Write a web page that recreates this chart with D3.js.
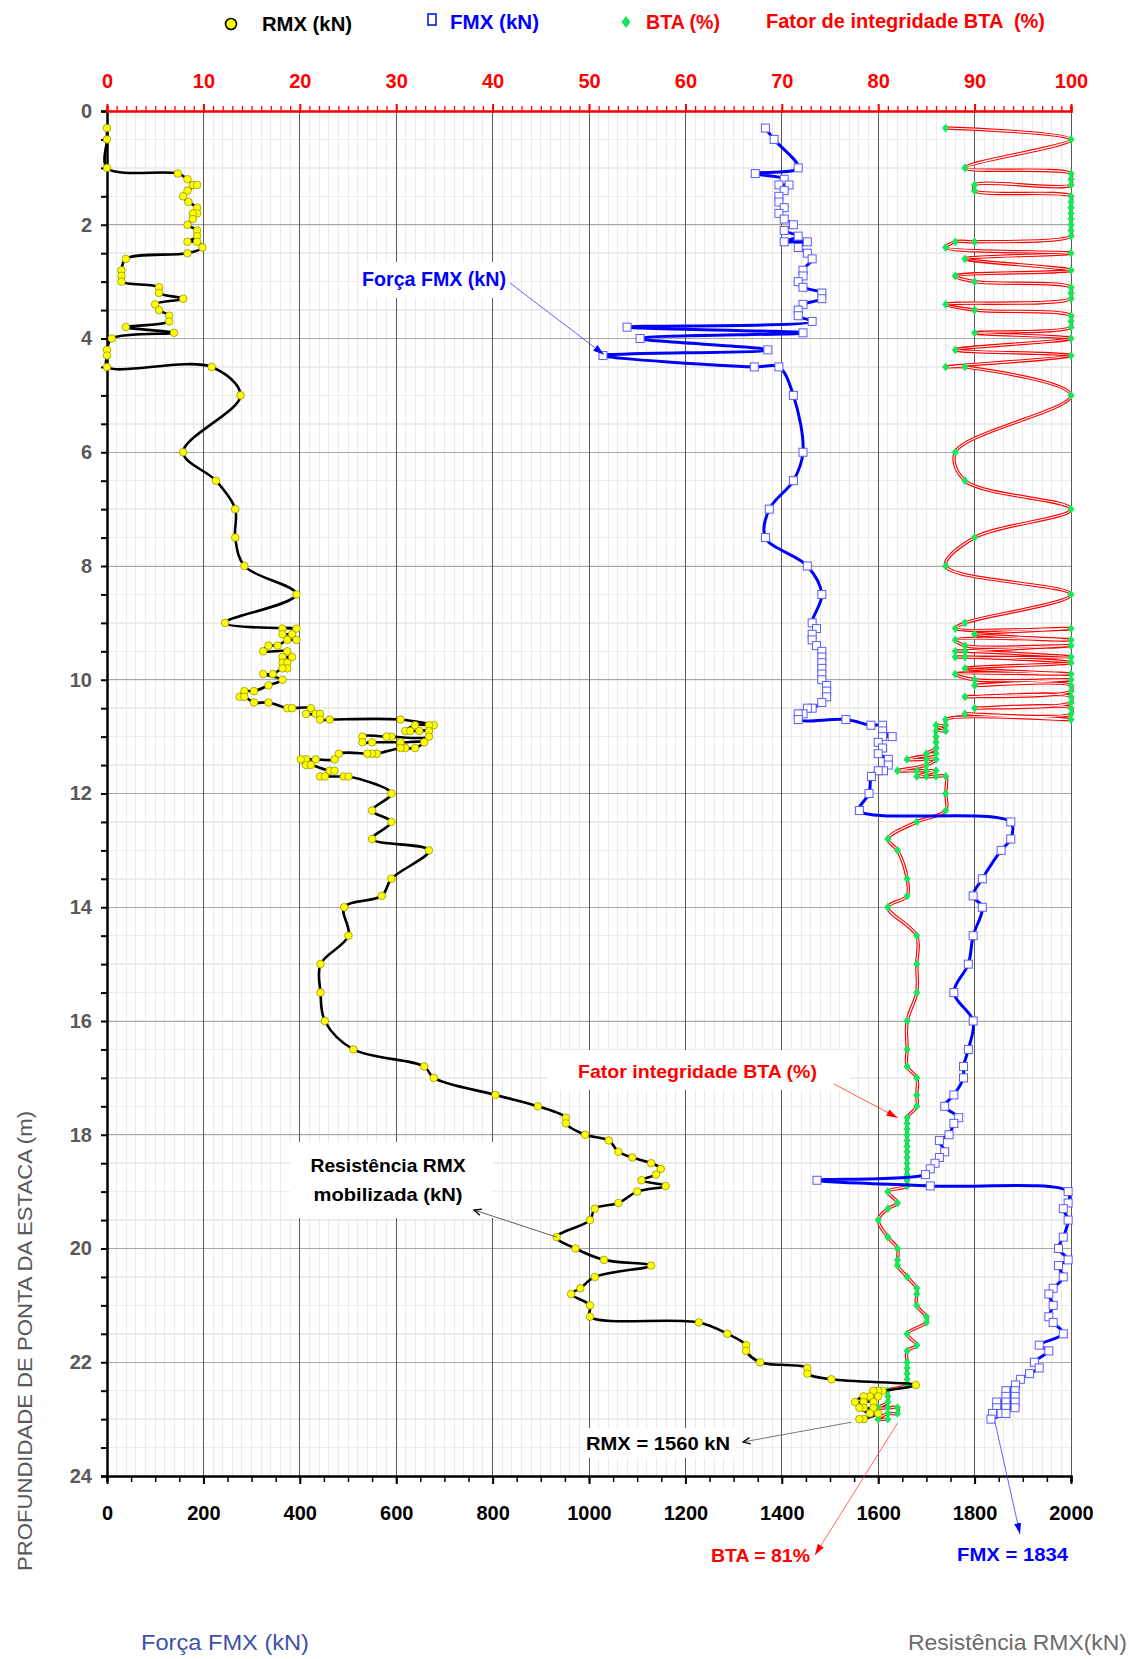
<!DOCTYPE html>
<html><head><meta charset="utf-8">
<script src="https://cdn.jsdelivr.net/npm/d3@7"></script>
<style>
body{margin:0;background:#fff}
svg{display:block}
text{font-family:"Liberation Sans",Arial,sans-serif}
</style>
</head><body>
<svg id="c" width="1134" height="1659"></svg>
<script>
// ---------------- DATA ([depth m, value]) ----------------
const rmx = [[0.3,0],[0.5,0],[1.0,0],[1.1,147],[1.2,167],[1.3,178],[1.3,187],[1.4,167],[1.5,158],[1.6,169],[1.7,187],[1.8,187],[1.8,178],[1.9,178],[2.0,167],[2.1,187],[2.2,187],[2.3,167],[2.3,187],[2.4,198],[2.5,167],[2.6,39],[2.8,30],[2.9,30],[3.0,30],[3.1,108],[3.2,108],[3.3,158],[3.4,100],[3.5,108],[3.6,129],[3.7,129],[3.8,39],[3.9,139],[4.0,10],[4.2,0],[4.3,0],[4.5,0],[4.5,217],[5.0,277],[6.0,158],[6.5,226],[7.0,266],[7.5,266],[8.0,285],[8.5,393],[9.0,245],[9.1,393],[9.1,364],[9.2,364],[9.2,384],[9.3,393],[9.3,374],[9.4,354],[9.4,335],[9.5,324],[9.5,374],[9.6,364],[9.6,384],[9.7,364],[9.7,374],[9.8,374],[9.8,364],[9.9,344],[9.9,324],[10.0,364],[10.1,335],[10.2,305],[10.2,285],[10.3,275],[10.3,285],[10.4,305],[10.4,335],[10.5,374],[10.5,384],[10.5,423],[10.6,413],[10.6,433],[10.6,442],[10.7,442],[10.7,462],[10.7,609],[10.8,678],[10.8,668],[10.8,639],[10.9,619],[10.9,629],[10.9,648],[10.9,668],[11.0,668],[11.0,590],[11.0,580],[11.0,530],[11.1,530],[11.1,550],[11.1,609],[11.1,658],[11.2,639],[11.2,619],[11.2,609],[11.3,560],[11.3,550],[11.3,540],[11.3,481],[11.4,472],[11.4,433],[11.4,413],[11.4,402],[11.5,413],[11.5,423],[11.6,462],[11.6,472],[11.7,442],[11.7,452],[11.7,491],[11.7,501],[12.0,590],[12.3,550],[12.5,590],[12.8,550],[13.0,668],[13.5,590],[13.8,570],[14.0,492],[14.5,501],[15.0,443],[15.5,443],[16.0,452],[16.5,511],[16.8,658],[17.0,678],[17.3,806],[17.5,894],[17.7,952],[17.8,952],[18.0,992],[18.1,1041],[18.3,1061],[18.4,1090],[18.5,1129],[18.6,1149],[18.7,1139],[18.8,1109],[18.9,1159],[19.0,1100],[19.2,1061],[19.3,1012],[19.5,1002],[19.8,933],[20.0,972],[20.2,1031],[20.3,1129],[20.5,1012],[20.7,982],[20.8,963],[21.0,1002],[21.2,1002],[21.3,1228],[21.5,1287],[21.7,1326],[21.8,1326],[22.0,1355],[22.1,1453],[22.2,1453],[22.3,1503],[22.4,1678],[22.5,1609],[22.5,1600],[22.5,1590],[22.6,1600],[22.6,1583],[22.6,1570],[22.7,1552],[22.7,1570],[22.7,1590],[22.8,1590],[22.8,1570],[22.8,1561],[22.9,1583],[22.9,1600],[23.0,1570],[23.0,1561]];

const fmx = [[0.3,1366],[0.5,1384],[1.0,1434],[1.1,1345],[1.2,1405],[1.3,1394],[1.3,1415],[1.4,1405],[1.5,1394],[1.6,1394],[1.7,1405],[1.8,1394],[1.9,1405],[2.0,1424],[2.1,1405],[2.2,1434],[2.3,1405],[2.3,1453],[2.4,1434],[2.5,1453],[2.6,1463],[2.8,1444],[2.9,1444],[3.0,1434],[3.1,1444],[3.2,1483],[3.3,1483],[3.4,1444],[3.5,1434],[3.6,1434],[3.7,1463],[3.8,1079],[3.9,1444],[4.0,1106],[4.2,1371],[4.3,1029],[4.5,1343],[4.5,1394],[5.0,1424],[6.0,1444],[6.5,1424],[7.0,1374],[7.5,1366],[8.0,1453],[8.5,1483],[9.0,1463],[9.1,1472],[9.2,1463],[9.3,1463],[9.4,1472],[9.5,1483],[9.6,1483],[9.7,1483],[9.8,1483],[9.9,1483],[10.0,1483],[10.1,1493],[10.2,1493],[10.3,1493],[10.4,1483],[10.5,1463],[10.5,1453],[10.6,1444],[10.6,1434],[10.7,1434],[10.7,1533],[10.8,1585],[10.8,1609],[10.9,1609],[11.0,1629],[11.0,1609],[11.1,1600],[11.2,1609],[11.3,1600],[11.4,1621],[11.5,1621],[11.6,1611],[11.6,1600],[11.7,1586],[12.0,1581],[12.3,1561],[12.5,1875],[12.8,1875],[13.0,1855],[13.5,1816],[13.8,1797],[14.0,1816],[14.5,1797],[15.0,1787],[15.5,1757],[16.0,1797],[16.5,1787],[16.8,1777],[17.0,1777],[17.3,1757],[17.5,1738],[17.7,1767],[17.8,1757],[18.0,1747],[18.1,1727],[18.3,1738],[18.4,1727],[18.5,1718],[18.6,1708],[18.7,1698],[18.8,1473],[18.9,1708],[19.0,1994],[19.2,1994],[19.3,1984],[19.5,1994],[19.8,1984],[20.0,1974],[20.2,1994],[20.3,1974],[20.5,1984],[20.7,1963],[20.8,1954],[21.0,1963],[21.2,1954],[21.3,1963],[21.5,1984],[21.7,1934],[21.8,1954],[22.0,1924],[22.1,1934],[22.2,1914],[22.3,1895],[22.4,1885],[22.5,1865],[22.5,1884],[22.6,1865],[22.6,1884],[22.7,1846],[22.7,1865],[22.7,1884],[22.8,1846],[22.8,1865],[22.8,1884],[22.9,1837],[22.9,1855],[22.9,1865],[23.0,1834]];

const bta = [[0.3,87],[0.5,100],[1.0,89],[1.1,100],[1.2,100],[1.3,100],[1.3,90],[1.4,90],[1.5,100],[1.6,100],[1.7,100],[1.8,100],[1.9,100],[2.0,100],[2.1,100],[2.2,100],[2.3,90],[2.3,88],[2.4,87],[2.5,100],[2.6,89],[2.8,100],[2.9,88],[3.0,90],[3.1,100],[3.2,100],[3.3,100],[3.4,87],[3.5,90],[3.6,100],[3.7,100],[3.8,100],[3.9,90],[4.0,100],[4.2,88],[4.3,100],[4.5,87],[4.5,89],[5.0,100],[6.0,88],[6.5,89],[7.0,100],[7.5,90],[8.0,87],[8.5,100],[9.0,89],[9.1,88],[9.1,100],[9.2,90],[9.3,100],[9.3,88],[9.4,89],[9.4,100],[9.5,88],[9.5,89],[9.6,100],[9.6,88],[9.6,89],[9.7,100],[9.8,89],[9.9,100],[9.9,88],[10.0,90],[10.0,100],[10.1,90],[10.1,100],[10.2,100],[10.3,89],[10.3,100],[10.4,100],[10.5,90],[10.5,100],[10.6,100],[10.6,89],[10.7,100],[10.7,87],[10.8,87],[10.8,86],[10.9,87],[10.9,86],[11.0,86],[11.1,86],[11.2,86],[11.3,85],[11.3,86],[11.4,83],[11.4,85],[11.4,86],[11.5,85],[11.6,82],[11.6,84],[11.6,85],[11.6,86],[11.7,84],[11.7,85],[11.7,86],[11.7,87],[12.0,87],[12.3,87],[12.5,84],[12.8,81],[13.0,82],[13.5,83],[13.8,83],[14.0,81],[14.5,84],[15.0,84],[15.5,84],[16.0,83],[16.5,83],[16.8,83],[17.0,84],[17.3,84],[17.5,84],[17.7,83],[17.8,83],[17.9,83],[18.0,83],[18.1,83],[18.2,83],[18.3,83],[18.4,83],[18.5,83],[18.6,83],[18.7,83],[18.8,83],[18.9,83],[19.0,81],[19.2,82],[19.3,81],[19.5,80],[19.8,81],[20.0,82],[20.2,82],[20.3,82],[20.5,83],[20.7,84],[20.8,84],[21.0,84],[21.2,85],[21.3,85],[21.5,83],[21.7,84],[21.8,83],[22.0,83],[22.1,83],[22.2,83],[22.3,83],[22.4,83],[22.5,81],[22.6,81],[22.7,81],[22.8,80],[22.8,81],[22.8,82],[22.9,82],[22.9,81],[23.0,80],[23.0,81]];

const depthTickLabels = [0,2,4,6,8,10,12,14,16,18,20,22,24];
const knTickLabels = [0,200,400,600,800,1000,1200,1400,1600,1800,2000];
const pctTickLabels = [0,10,20,30,40,50,60,70,80,90,100];
const legendLabels = ["RMX (kN)","FMX (kN)","BTA (%)","Fator de integridade BTA  (%)"];
const finalRMX = 1560, finalFMX = 1834, finalBTA = 81, finalDepth = 23.0;

// ---------------- LAYOUT ----------------
const L=107, R=1071, T=111, B=1476;
const svg = d3.select('#c');
const xR = d3.scaleLinear().domain([0,2000]).range([L,R]);
const xP = d3.scaleLinear().domain([0,100]).range([L,R]);
const y  = d3.scaleLinear().domain([0,24]).range([T,B]);
const FONT = '"Liberation Sans",Arial,sans-serif';

svg.append('rect').attr('width',1134).attr('height',1659).attr('fill','#fff');

// ---------------- GRID ----------------
const grid = svg.append('g').attr('shape-rendering','crispEdges');
grid.selectAll('.vm').data(d3.range(20,2000,20)).join('line')
  .attr('x1',d=>xR(d)).attr('x2',d=>xR(d)).attr('y1',T).attr('y2',B)
  .attr('stroke','#e9e9e9').attr('stroke-width',1);
grid.selectAll('.hm').data(d3.range(0.5,24,0.5)).join('line')
  .attr('x1',L).attr('x2',R).attr('y1',d=>y(d)).attr('y2',d=>y(d))
  .attr('stroke','#ececec').attr('stroke-width',1.5);
grid.selectAll('.hM').data(depthTickLabels.filter(d=>d>0&&d<24)).join('line')
  .attr('x1',L).attr('x2',R).attr('y1',d=>y(d)).attr('y2',d=>y(d))
  .attr('stroke','#a6a6a6').attr('stroke-width',1);
grid.selectAll('.vM').data(knTickLabels.filter(d=>d>0)).join('line')
  .attr('x1',d=>xR(d)).attr('x2',d=>xR(d)).attr('y1',T).attr('y2',B)
  .attr('stroke','#595959').attr('stroke-width',1);

// ---------------- AXES ----------------
const ax = svg.append('g').attr('transform',`translate(${L},0)`)
  .call(d3.axisLeft(y).tickValues(d3.range(0,24.01,0.5)).tickSize(6).tickPadding(9)
    .tickFormat(d=> depthTickLabels.includes(d) ? String(d) : ''));
ax.select('.domain').attr('stroke','#000').attr('stroke-width',2.5);
ax.selectAll('.tick line').attr('stroke','#000').attr('stroke-width',2);
ax.selectAll('.tick text').attr('font-family',FONT).attr('font-size',20).attr('font-weight','bold').attr('fill','#595959');

const bm = svg.append('g').attr('transform',`translate(0,${B})`)
  .call(d3.axisBottom(xR).tickValues(d3.range(0,2001,50)).tickSize(6).tickFormat(''));
bm.select('.domain').attr('stroke','#000').attr('stroke-width',2.5);
bm.selectAll('.tick line').attr('stroke','#000').attr('stroke-width',1.5);
const bM = svg.append('g').attr('transform',`translate(0,${B})`)
  .call(d3.axisBottom(xR).tickValues(knTickLabels).tickSize(8).tickPadding(22).tickFormat(d=>String(d)));
bM.select('.domain').remove();
bM.selectAll('.tick line').attr('stroke','#000').attr('stroke-width',2);
bM.selectAll('.tick text').attr('font-family',FONT).attr('font-size',20).attr('font-weight','bold').attr('fill','#000');

const tm = svg.append('g').attr('transform',`translate(0,${T})`)
  .call(d3.axisTop(xP).tickValues(d3.range(0,101,1)).tickSize(5).tickFormat(''));
tm.select('.domain').attr('stroke','#ff0000').attr('stroke-width',2.5);
tm.selectAll('.tick line').attr('stroke','#ff0000').attr('stroke-width',1.3);
const tM = svg.append('g').attr('transform',`translate(0,${T})`)
  .call(d3.axisTop(xP).tickValues(pctTickLabels).tickSize(7).tickPadding(16).tickFormat(d=>String(d)));
tM.select('.domain').remove();
tM.selectAll('.tick line').attr('stroke','#ff0000').attr('stroke-width',2).attr('y1',2);
tM.selectAll('.tick text').attr('font-family',FONT).attr('font-size',20).attr('font-weight','bold').attr('fill','#ff0000');

// ---------------- SERIES ----------------
const curve = d3.curveCatmullRom.alpha(0.5);
const lineKN = d3.line().x(d=>xR(d[1])).y(d=>y(d[0])).curve(curve);
const linePct = d3.line().x(d=>xP(d[1])).y(d=>y(d[0])).curve(curve);

svg.append('path').attr('d',linePct(bta)).attr('fill','none').attr('stroke','#ff0000').attr('stroke-width',3.4).attr('stroke-linejoin','round');
svg.append('path').attr('d',linePct(bta)).attr('fill','none').attr('stroke','#ffffff').attr('stroke-width',1.1).attr('stroke-linejoin','round');
svg.append('g').selectAll('path').data(bta).join('path')
  .attr('transform',d=>`translate(${xP(d[1])},${y(d[0])})`)
  .attr('d','M0,-4.4L3.6,0L0,4.4L-3.6,0Z').attr('fill','#14e85a');

svg.append('path').attr('d',lineKN(rmx)).attr('fill','none').attr('stroke','#000').attr('stroke-width',2.6).attr('stroke-linejoin','round');
svg.append('g').selectAll('circle').data(rmx).join('circle')
  .attr('cx',d=>xR(d[1])).attr('cy',d=>y(d[0])).attr('r',3.8)
  .attr('fill','#ffff00').attr('stroke','#8a8a00').attr('stroke-width',0.7);

svg.append('path').attr('d',lineKN(fmx)).attr('fill','none').attr('stroke','#0000ff').attr('stroke-width',3).attr('stroke-linejoin','round');
svg.append('g').selectAll('rect').data(fmx).join('rect')
  .attr('x',d=>xR(d[1])-4).attr('y',d=>y(d[0])-4).attr('width',8).attr('height',8)
  .attr('fill','#fff').attr('stroke','#5a5aff').attr('stroke-width',1);

// ---------------- LEGEND ----------------
const lg = svg.append('g').attr('font-family',FONT).attr('font-weight','bold').attr('font-size',20);
lg.append('circle').attr('cx',231).attr('cy',24).attr('r',5.5).attr('fill','#ffff00').attr('stroke','#000').attr('stroke-width',1.6);
lg.append('text').attr('x',262).attr('y',31).attr('textLength',90).attr('lengthAdjust','spacingAndGlyphs').attr('fill','#000').text(legendLabels[0]);
lg.append('rect').attr('x',428).attr('y',14).attr('width',8).attr('height',11).attr('fill','#fff').attr('stroke','#0000ff').attr('stroke-width',1.5);
lg.append('text').attr('x',450).attr('y',29).attr('textLength',89).attr('lengthAdjust','spacingAndGlyphs').attr('fill','#0000ff').text(legendLabels[1]);
lg.append('path').attr('d','M626,16L630.5,22L626,28L621.5,22Z').attr('fill','#14e85a');
lg.append('text').attr('x',646).attr('y',29).attr('textLength',74).attr('lengthAdjust','spacingAndGlyphs').attr('fill','#ff0000').text(legendLabels[2]);
lg.append('text').attr('x',766).attr('y',28).attr('textLength',279).attr('lengthAdjust','spacingAndGlyphs').attr('fill','#ff0000').attr('xml:space','preserve').text(legendLabels[3]);

// ---------------- AXIS TITLES ----------------
svg.append('text').attr('transform','translate(32,1341) rotate(-90)').attr('text-anchor','middle')
  .attr('font-family',FONT).attr('font-size',21).attr('fill','#595959')
  .attr('textLength',460).attr('lengthAdjust','spacingAndGlyphs').text('PROFUNDIDADE DE PONTA DA ESTACA (m)');
svg.append('text').attr('x',141).attr('y',1650).attr('font-family',FONT).attr('font-size',22).attr('fill','#3f51a8')
  .attr('textLength',168).attr('lengthAdjust','spacingAndGlyphs').text('Força FMX (kN)');
svg.append('text').attr('x',908).attr('y',1650).attr('font-family',FONT).attr('font-size',22).attr('fill','#6b6b6b')
  .attr('textLength',219).attr('lengthAdjust','spacingAndGlyphs').text('Resistência RMX(kN)');

// ---------------- ANNOTATIONS ----------------
const defs = svg.append('defs');
function marker(id,color,open){
  const m = defs.append('marker').attr('id',id).attr('viewBox','0 0 10 10').attr('refX',open?9:10).attr('refY',5)
    .attr('markerWidth',open?9:11).attr('markerHeight',open?9:11).attr('markerUnits','userSpaceOnUse').attr('orient','auto');
  if(open) m.append('path').attr('d','M1,1.5L9,5L1,8.5').attr('fill','none').attr('stroke',color).attr('stroke-width',1.4);
  else m.append('path').attr('d','M0,1.8L10,5L0,8.2Z').attr('fill',color);
}
marker('aBlue','#0000ff',false);
marker('aRed','#ff0000',false);
marker('aBlk','#000',true);

const an = svg.append('g').attr('font-family',FONT).attr('font-weight','bold');
function box(x,yy,w,h){ an.append('rect').attr('x',x).attr('y',yy).attr('width',w).attr('height',h).attr('fill','#fff'); }
function arrow(x1,y1,x2,y2,color,mk,w){
  an.append('line').attr('x1',x1).attr('y1',y1).attr('x2',x2).attr('y2',y2)
    .attr('stroke',color).attr('stroke-width',w||0.8).attr('marker-end',`url(#${mk})`);
}
box(358,262,152,36);
an.append('text').attr('x',362).attr('y',286).attr('font-size',20).attr('fill','#0000ff')
  .attr('textLength',144).attr('lengthAdjust','spacingAndGlyphs').text('Força FMX (kN)');
const fSpike = fmx.find(d=>d[1]===1029);
arrow(510,283,xR(fSpike[1])+1,y(fSpike[0])-1,'#3a3aff','aBlue');

box(547,1050,303,40);
an.append('text').attr('x',578).attr('y',1078).attr('font-size',19).attr('fill','#ff0000')
  .attr('textLength',239).attr('lengthAdjust','spacingAndGlyphs').text('Fator integridade BTA (%)');
arrow(834,1084,xP(82),y(17.7),'#ff3030','aRed');

box(290,1142,203,76);
an.append('text').attr('x',388).attr('y',1172).attr('text-anchor','middle').attr('font-size',19).attr('fill','#000')
  .attr('textLength',155).attr('lengthAdjust','spacingAndGlyphs').text('Resistência RMX');
an.append('text').attr('x',388).attr('y',1201).attr('text-anchor','middle').attr('font-size',19).attr('fill','#000')
  .attr('textLength',149).attr('lengthAdjust','spacingAndGlyphs').text('mobilizada (kN)');
const rMin = rmx.find(d=>d[1]===933);
arrow(xR(rMin[1]),y(rMin[0]),474,1210,'#333','aBlk',0.8);

box(583,1428,152,30);
an.append('text').attr('x',586).attr('y',1450).attr('font-size',19).attr('fill','#000')
  .attr('textLength',144).attr('lengthAdjust','spacingAndGlyphs').text(`RMX = ${finalRMX} kN`);
arrow(xR(1545),y(finalDepth)+3,743,1442,'#555','aBlk',0.8);

an.append('text').attr('x',711).attr('y',1562).attr('font-size',19).attr('fill','#ff0000')
  .attr('textLength',99).attr('lengthAdjust','spacingAndGlyphs').text(`BTA = ${finalBTA}%`);
arrow(xP(finalBTA+1),y(finalDepth)+4,815,1555,'#ff4040','aRed');

an.append('text').attr('x',957).attr('y',1561).attr('font-size',19).attr('fill','#0000ff')
  .attr('textLength',111).attr('lengthAdjust','spacingAndGlyphs').text(`FMX = ${finalFMX}`);
arrow(xR(finalFMX)+4,y(finalDepth)+3,1020,1534,'#3a3aff','aBlue');
</script>
</body></html>
